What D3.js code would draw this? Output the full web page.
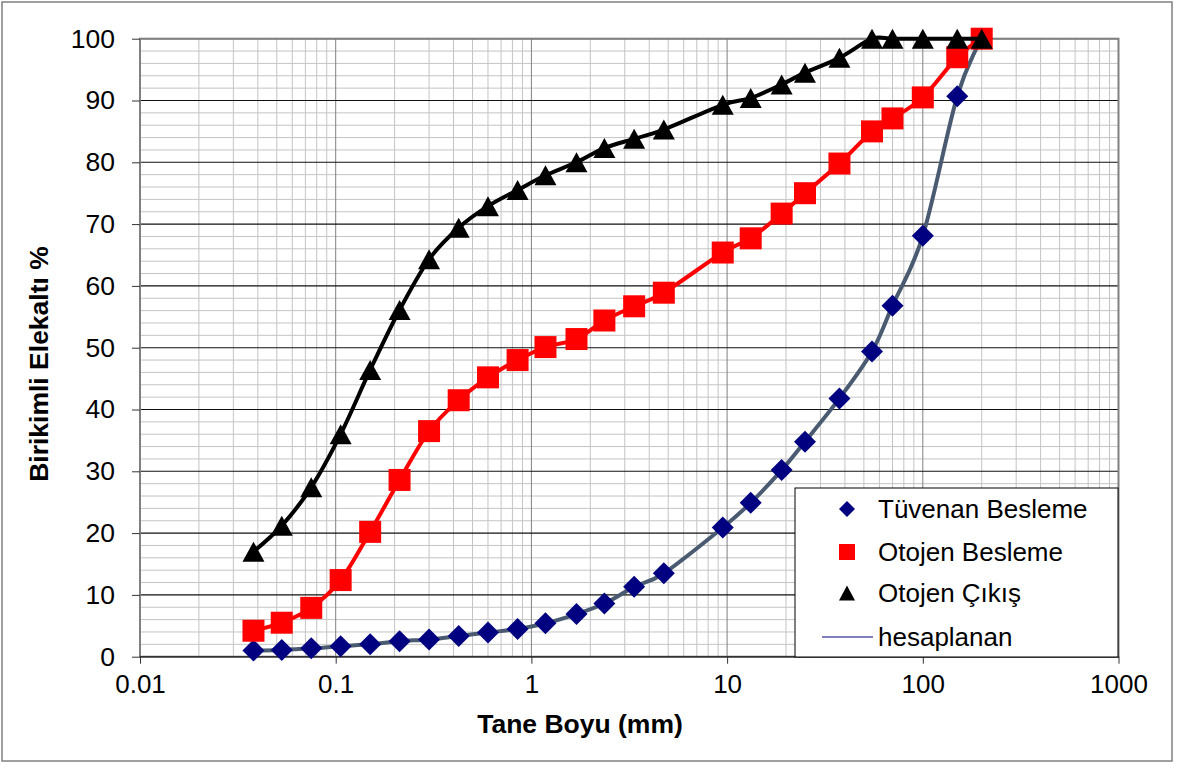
<!DOCTYPE html>
<html>
<head>
<meta charset="utf-8">
<script src="https://cdn.jsdelivr.net/npm/d3@7"></script>
<style>
  body { margin: 0; background: #fff; }
  svg { display: block; font-family: "Liberation Sans", Arial, sans-serif; }
</style>
</head>
<body>
<svg width="1180" height="765"></svg>
<script>
// elek açıklıkları (mm)
const sizes = [0.038, 0.053, 0.075, 0.106, 0.15, 0.212, 0.3, 0.425, 0.6, 0.85, 1.18, 1.7, 2.36,
  3.35, 4.75, 9.5, 13.2, 19, 25, 37.5, 55, 70, 100, 150, 200];
const tuvenan = [1.0, 1.1, 1.35, 1.7, 2.0, 2.5, 2.8, 3.35, 3.9, 4.5, 5.4, 6.9, 8.6,
  11.3, 13.5, 20.9, 24.9, 30.2, 34.8, 41.8, 49.4, 56.8, 68.1, 90.7, 100];
const otojenBesleme = [4.2, 5.5, 7.9, 12.4, 20.2, 28.6, 36.5, 41.5, 45.2, 48.0, 50.1, 51.4, 54.4,
  56.7, 58.9, 65.4, 67.7, 71.7, 75.0, 79.8, 85.0, 87.1, 90.5, 97.0, 100];
const otojenCikis = [17.0, 21.2, 27.4, 36.0, 46.4, 56.1, 64.3, 69.4, 72.9, 75.5, 77.9, 80.0, 82.3,
  83.8, 85.3, 89.3, 90.4, 92.6, 94.5, 96.9, 100, 100, 100, 100, 100];
const hesaplanan = tuvenan.slice();

const xTicks = [0.01, 0.1, 1, 10, 100, 1000];
const yTicks = [0, 10, 20, 30, 40, 50, 60, 70, 80, 90, 100];
const legendNames = ["Tüvenan Besleme", "Otojen Besleme", "Otojen Çıkış", "hesaplanan"];

const svg = d3.select("svg");
const pLeft = 140, pRight = 1118.5, pTop = 38.7, pBottom = 656.7;

svg.append("rect").attr("x", 2).attr("y", 2).attr("width", 1170).attr("height", 759)
  .attr("fill", "#fff").attr("stroke", "#808080").attr("stroke-width", 1.5);

const x = d3.scaleLog().domain([0.01, 1000]).range([pLeft, pRight]);
const y = d3.scaleLinear().domain([0, 100]).range([pBottom, pTop]);

// minor grid
const minorX = [];
for (let d = 0.01; d < 1000; d *= 10) {
  for (let k = 2; k <= 9; k++) minorX.push(d * k);
}
const minorY = d3.range(0, 101, 2).filter(v => v % 10 !== 0);

const grid = svg.append("g");
grid.selectAll(".mx").data(minorX).enter().append("line")
  .attr("x1", d => x(d)).attr("x2", d => x(d)).attr("y1", pTop).attr("y2", pBottom)
  .attr("stroke", "#c4c4c4").attr("stroke-width", 1);
grid.selectAll(".my").data(minorY).enter().append("line")
  .attr("x1", pLeft).attr("x2", pRight).attr("y1", d => y(d)).attr("y2", d => y(d))
  .attr("stroke", "#c4c4c4").attr("stroke-width", 1);
grid.selectAll(".Mx").data(xTicks).enter().append("line")
  .attr("x1", d => x(d)).attr("x2", d => x(d)).attr("y1", pTop).attr("y2", pBottom)
  .attr("stroke", "#808080").attr("stroke-width", 1);
grid.selectAll(".My").data(yTicks).enter().append("line")
  .attr("x1", pLeft).attr("x2", pRight).attr("y1", d => y(d)).attr("y2", d => y(d))
  .attr("stroke", "#111").attr("stroke-width", 1.1);

// plot border
svg.append("rect").attr("x", pLeft).attr("y", pTop).attr("width", pRight - pLeft).attr("height", pBottom - pTop)
  .attr("fill", "none").attr("stroke", "#808080").attr("stroke-width", 2);
svg.append("line").attr("x1", pLeft).attr("x2", pRight).attr("y1", pBottom).attr("y2", pBottom)
  .attr("stroke", "#333").attr("stroke-width", 1.5);

// axes
const yAxis = d3.axisLeft(y).tickValues(yTicks).tickSize(8).tickPadding(17);
const gy = svg.append("g").attr("transform", `translate(${pLeft},0)`).call(yAxis);
gy.select(".domain").remove();
gy.selectAll("line").attr("stroke", "#333");
gy.selectAll("text").attr("font-size", 26.5).attr("fill", "#000").attr("font-family", "Liberation Sans, Arial");

const xAxis = d3.axisBottom(x).tickValues(xTicks).tickSize(7).tickPadding(11)
  .tickFormat(d => String(d));
const gx = svg.append("g").attr("transform", `translate(0,${pBottom})`).call(xAxis);
gx.select(".domain").remove();
gx.selectAll("line").attr("stroke", "#333");
gx.selectAll("text").attr("font-size", 26).attr("fill", "#000").attr("font-family", "Liberation Sans, Arial");

svg.append("text").attr("x", 580).attr("y", 733).attr("text-anchor", "middle")
  .attr("font-size", 26.5).attr("font-weight", "bold").text("Tane Boyu (mm)");
svg.append("text").attr("transform", "translate(48,364) rotate(-90)").attr("text-anchor", "middle")
  .attr("font-size", 26.5).attr("font-weight", "bold").text("Birikimli Elekaltı %");

// series
const line = d3.line().x(d => x(d[0])).y(d => y(d[1])).curve(d3.curveCatmullRom.alpha(0));
const pts = vals => sizes.map((s, i) => [s, vals[i]]);

const diamond = r => `M0,${-r}L${r},0L0,${r}L${-r},0Z`;
const square = r => `M${-r},${-r}H${r}V${r}H${-r}Z`;
const triangle = (w, h) => `M0,${-h / 2}L${w / 2},${h / 2}L${-w / 2},${h / 2}Z`;

svg.append("path").attr("d", line(pts(hesaplanan))).attr("fill", "none")
  .attr("stroke", "#4a5a70").attr("stroke-width", 4);
svg.append("g").selectAll("path").data(pts(tuvenan)).enter().append("path")
  .attr("transform", d => `translate(${x(d[0])},${y(d[1])})`)
  .attr("d", diamond(11)).attr("fill", "#000080");

svg.append("path").attr("d", line(pts(otojenBesleme))).attr("fill", "none")
  .attr("stroke", "#ff0000").attr("stroke-width", 4);
svg.append("g").selectAll("path").data(pts(otojenBesleme)).enter().append("path")
  .attr("transform", d => `translate(${x(d[0])},${y(d[1])})`)
  .attr("d", square(11)).attr("fill", "#ff0000");

svg.append("path").attr("d", line(pts(otojenCikis))).attr("fill", "none")
  .attr("stroke", "#000").attr("stroke-width", 4);
svg.append("g").selectAll("path").data(pts(otojenCikis)).enter().append("path")
  .attr("transform", d => `translate(${x(d[0])},${y(d[1])})`)
  .attr("d", triangle(22, 20)).attr("fill", "#000");

// legend
const lg = svg.append("g").attr("transform", "translate(795,488)");
lg.append("rect").attr("width", 323).attr("height", 169).attr("fill", "#fff")
  .attr("stroke", "#000").attr("stroke-width", 1);
const rowY = [21, 64, 105, 149];
const mk = [diamond(8), square(8), triangle(16, 15)];
const mkColor = ["#000080", "#ff0000", "#000"];
legendNames.forEach((name, i) => {
  if (i < 3) {
    lg.append("path").attr("transform", `translate(52,${rowY[i]})`).attr("d", mk[i]).attr("fill", mkColor[i]);
  } else {
    lg.append("line").attr("x1", 27).attr("x2", 78).attr("y1", rowY[i]).attr("y2", rowY[i])
      .attr("stroke", "#000080").attr("stroke-width", 1);
  }
  lg.append("text").attr("x", 83).attr("y", rowY[i] + 9).attr("font-size", 26).text(name);
});
</script>
</body>
</html>
